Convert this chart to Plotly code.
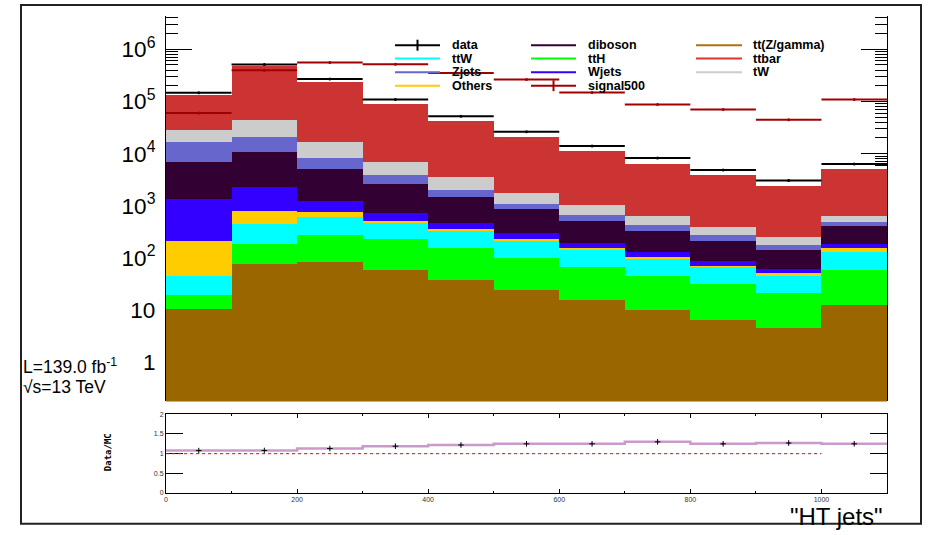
import math
import plotly.graph_objects as go

# ---- binning (HT of jets, GeV) ----
bin_edges = [0, 100, 200, 300, 400, 500, 600, 700, 800, 900, 1000, 1100]
bin_centers = [50, 150, 250, 350, 450, 550, 650, 750, 850, 950, 1050]

# ---- background samples, listed bottom-to-top of the stack ----
ttZgamma = [10.7, 76, 83, 58, 37.7, 23.9, 15.6, 9.9, 6.6, 4.55, 12.7]
ttH = [8.5, 108, 194, 171, 121, 78, 53, 36, 25, 17, 47]
ttW = [27, 259, 336, 242, 172, 111, 72, 53, 36, 23, 73]
others = [167, 355, 138, 50, 25, 16, 13, 6, 4, 6.2, 21]
wjets = [1117, 1532, 506, 220, 107, 74, 38, 26, 17.6, 9.8, 33]
diboson = [5670, 8570, 3823, 1879, 992, 554, 314, 194, 123, 85, 218]
zjets = [9900, 9900, 3160, 1280, 560, 243, 164, 106, 64, 34, 87]
tW = [11400, 23700, 8660, 3100, 1495, 690, 353, 199, 111, 75, 138]
ttbar = [107200, 428500, 220100, 84200, 39090, 19210, 10177, 5690, 3512, 2146, 4440]

data = [146000, 511000, 268000, 108500, 52000, 26250, 14000, 8220, 4875, 3050, 6340]
signal500 = [60000, 397000, 555000, 516000, 352000, 262000, 148000, 87300, 70000, 44500, 108700]

stack = [
    ("tt(Z/gamma)", ttZgamma, "#996600"),
    ("ttH", ttH, "#00ff00"),
    ("ttW", ttW, "#00ffff"),
    ("Others", others, "#ffcc00"),
    ("Wjets", wjets, "#3300ff"),
    ("diboson", diboson, "#330033"),
    ("Zjets", zjets, "#6666cc"),
    ("tW", tW, "#cccccc"),
    ("ttbar", ttbar, "#cc3333"),
]

mc_total = [sum(s[1][i] for s in stack) for i in range(len(bin_centers))]
ratio = [d / m for d, m in zip(data, mc_total)]
ratio_err = [r * math.sqrt(1.0 / d) for r, d in zip(ratio, data)]

FONT = "Liberation Sans, Arial, Helvetica, sans-serif"

# canvas geometry (pixels)
W, H = 933, 535
L_M, R_M, T_M, B_M = 166, 46, 14, 42
PW = W - L_M - R_M
PH = H - T_M - B_M


def xp(px):
    return (px - L_M) / PW


def yp(py):
    return (H - B_M - py) / PH


fig = go.Figure()

for name, vals, col in stack:
    fig.add_trace(go.Bar(
        x=bin_centers, y=vals, width=100, name=name,
        marker=dict(color=col, line=dict(width=0)),
        xaxis="x", yaxis="y",
    ))

fig.add_trace(go.Scatter(
    x=bin_centers, y=data, mode="markers", name="data",
    marker=dict(color="black", size=3),
    error_x=dict(type="constant", value=50, thickness=2, width=0, color="black"),
    xaxis="x", yaxis="y",
))

fig.add_trace(go.Scatter(
    x=bin_centers, y=signal500, mode="markers", name="signal500",
    marker=dict(color="#a00000", size=3),
    error_x=dict(type="constant", value=50, thickness=2, width=0, color="#a00000"),
    xaxis="x", yaxis="y",
))

# ratio panel
fig.add_trace(go.Scatter(
    x=bin_edges, y=ratio + [ratio[-1]], mode="lines", line_shape="hv",
    line=dict(color="#cc99cc", width=2.5),
    xaxis="x2", yaxis="y2",
))
fig.add_trace(go.Scatter(
    x=bin_centers, y=ratio, mode="markers",
    marker=dict(symbol="cross-thin", size=4, line=dict(width=1, color="black"), color="black"),
    error_y=dict(type="data", array=ratio_err, thickness=1, width=0, color="black"),
    xaxis="x2", yaxis="y2",
))

main_bottom = 401
fig.update_layout(
    width=W, height=H,
    margin=dict(l=L_M, r=R_M, t=T_M, b=B_M),
    paper_bgcolor="white", plot_bgcolor="white",
    barmode="stack", bargap=0, showlegend=False,
    font=dict(family=FONT, color="black"),
    xaxis=dict(
        domain=[0, 1], range=[0, 1100], anchor="y", matches="x2",
        showticklabels=False, ticks="", showgrid=False, zeroline=False, showline=False,
    ),
    yaxis=dict(
        domain=[yp(main_bottom), 1], type="log", range=[-0.746, 6.637], anchor="x",
        dtick=1, exponentformat="power", showgrid=False, zeroline=False,
        showline=True, linecolor="black", linewidth=1, mirror="allticks",
        ticks="inside", ticklen=26, tickcolor="black", tickwidth=1,
        minor=dict(ticks="inside", ticklen=12, dtick="D1", tickcolor="black", showgrid=False),
        tickfont=dict(size=18, family=FONT), ticklabelstandoff=6,
        layer="below traces",
    ),
    xaxis2=dict(
        domain=[0, 1], range=[0, 1100], anchor="y2",
        dtick=200, ticks="inside", ticklen=4, tickcolor="black",
        minor=dict(ticks="inside", ticklen=2, dtick=100, tickcolor="black", showgrid=False),
        showline=True, linecolor="black", linewidth=1, mirror="allticks",
        showgrid=False, zeroline=False,
        tickfont=dict(size=7, family=FONT, color="#333333"),
    ),
    yaxis2=dict(
        domain=[0, yp(414)], range=[0, 2], anchor="x2",
        tickvals=[0, 0.5, 1, 1.5, 2], ticktext=["0", "0.5", "1", "1.5", "2"],
        ticks="inside", ticklen=17, tickcolor="black",
        showline=True, linecolor="black", linewidth=1, mirror="allticks",
        showgrid=False, zeroline=False,
        tickfont=dict(size=7, family=FONT, color="#333333"),
    ),
)

shapes = []
annotations = []

# unity reference in ratio panel
shapes.append(dict(type="line", xref="x2", yref="y2", x0=0, x1=1000, y0=1, y1=1,
                   line=dict(color="#ff0000", width=1, dash="dot")))

# outer canvas frame
shapes.append(dict(type="rect", xref="paper", yref="paper",
                   x0=xp(21), x1=xp(921), y0=yp(524), y1=yp(3),
                   line=dict(color="#222222", width=2)))

# legend: three columns of line samples with labels
legend_cols = [(395, 440, 450), (531, 576, 586), (696, 742, 751)]
legend_rows = [43.3, 56.8, 70.5, 84.0]
legend_items = [
    (0, 0, "data", "black", True),
    (0, 1, "ttW", "#00ffff", False),
    (0, 2, "Zjets", "#6666cc", False),
    (0, 3, "Others", "#ffcc00", False),
    (1, 0, "diboson", "#330033", False),
    (1, 1, "ttH", "#00ff00", False),
    (1, 2, "Wjets", "#3300ff", False),
    (1, 3, "signal500", "#a00000", True),
    (2, 0, "tt(Z/gamma)", "#b07010", False),
    (2, 1, "ttbar", "#dd3333", False),
    (2, 2, "tW", "#cccccc", False),
]
for c, r, label, col, with_err in legend_items:
    x0, x1, xt = legend_cols[c]
    y = legend_rows[r]
    shapes.append(dict(type="line", xref="paper", yref="paper",
                       x0=xp(x0), x1=xp(x1), y0=yp(y), y1=yp(y),
                       line=dict(color=col, width=2)))
    if with_err:
        xm = (x0 + x1) / 2
        shapes.append(dict(type="line", xref="paper", yref="paper",
                           x0=xp(xm), x1=xp(xm), y0=yp(y - 5.5), y1=yp(y + 5.5),
                           line=dict(color=col, width=2)))
    annotations.append(dict(xref="paper", yref="paper", x=xp(xt), y=yp(y),
                            xanchor="left", yanchor="middle", showarrow=False,
                            text="<b>%s</b>" % label,
                            font=dict(size=12.5, family=FONT, color="black")))

# luminosity / energy labels
annotations.append(dict(xref="paper", yref="paper", x=xp(21), y=yp(365),
                        xanchor="left", yanchor="middle", showarrow=False,
                        text="L=139.0 fb<sup>-1</sup>", font=dict(size=17.5, family=FONT)))
annotations.append(dict(xref="paper", yref="paper", x=xp(21), y=yp(387),
                        xanchor="left", yanchor="middle", showarrow=False,
                        text="√s=13 TeV", font=dict(size=17.5, family=FONT)))

# ratio axis title
annotations.append(dict(xref="paper", yref="paper", x=xp(108), y=yp(452),
                        xanchor="center", yanchor="middle", showarrow=False,
                        textangle=-90, text="<b>Data/MC</b>",
                        font=dict(size=9, family="DejaVu Sans Mono, monospace")))

# x axis title
annotations.append(dict(xref="paper", yref="paper", x=xp(885), y=yp(517),
                        xanchor="right", yanchor="middle", showarrow=False,
                        text='"HT jets"', font=dict(size=24, family=FONT)))

fig.update_layout(shapes=shapes, annotations=annotations)

fig.write_html("out.html")
